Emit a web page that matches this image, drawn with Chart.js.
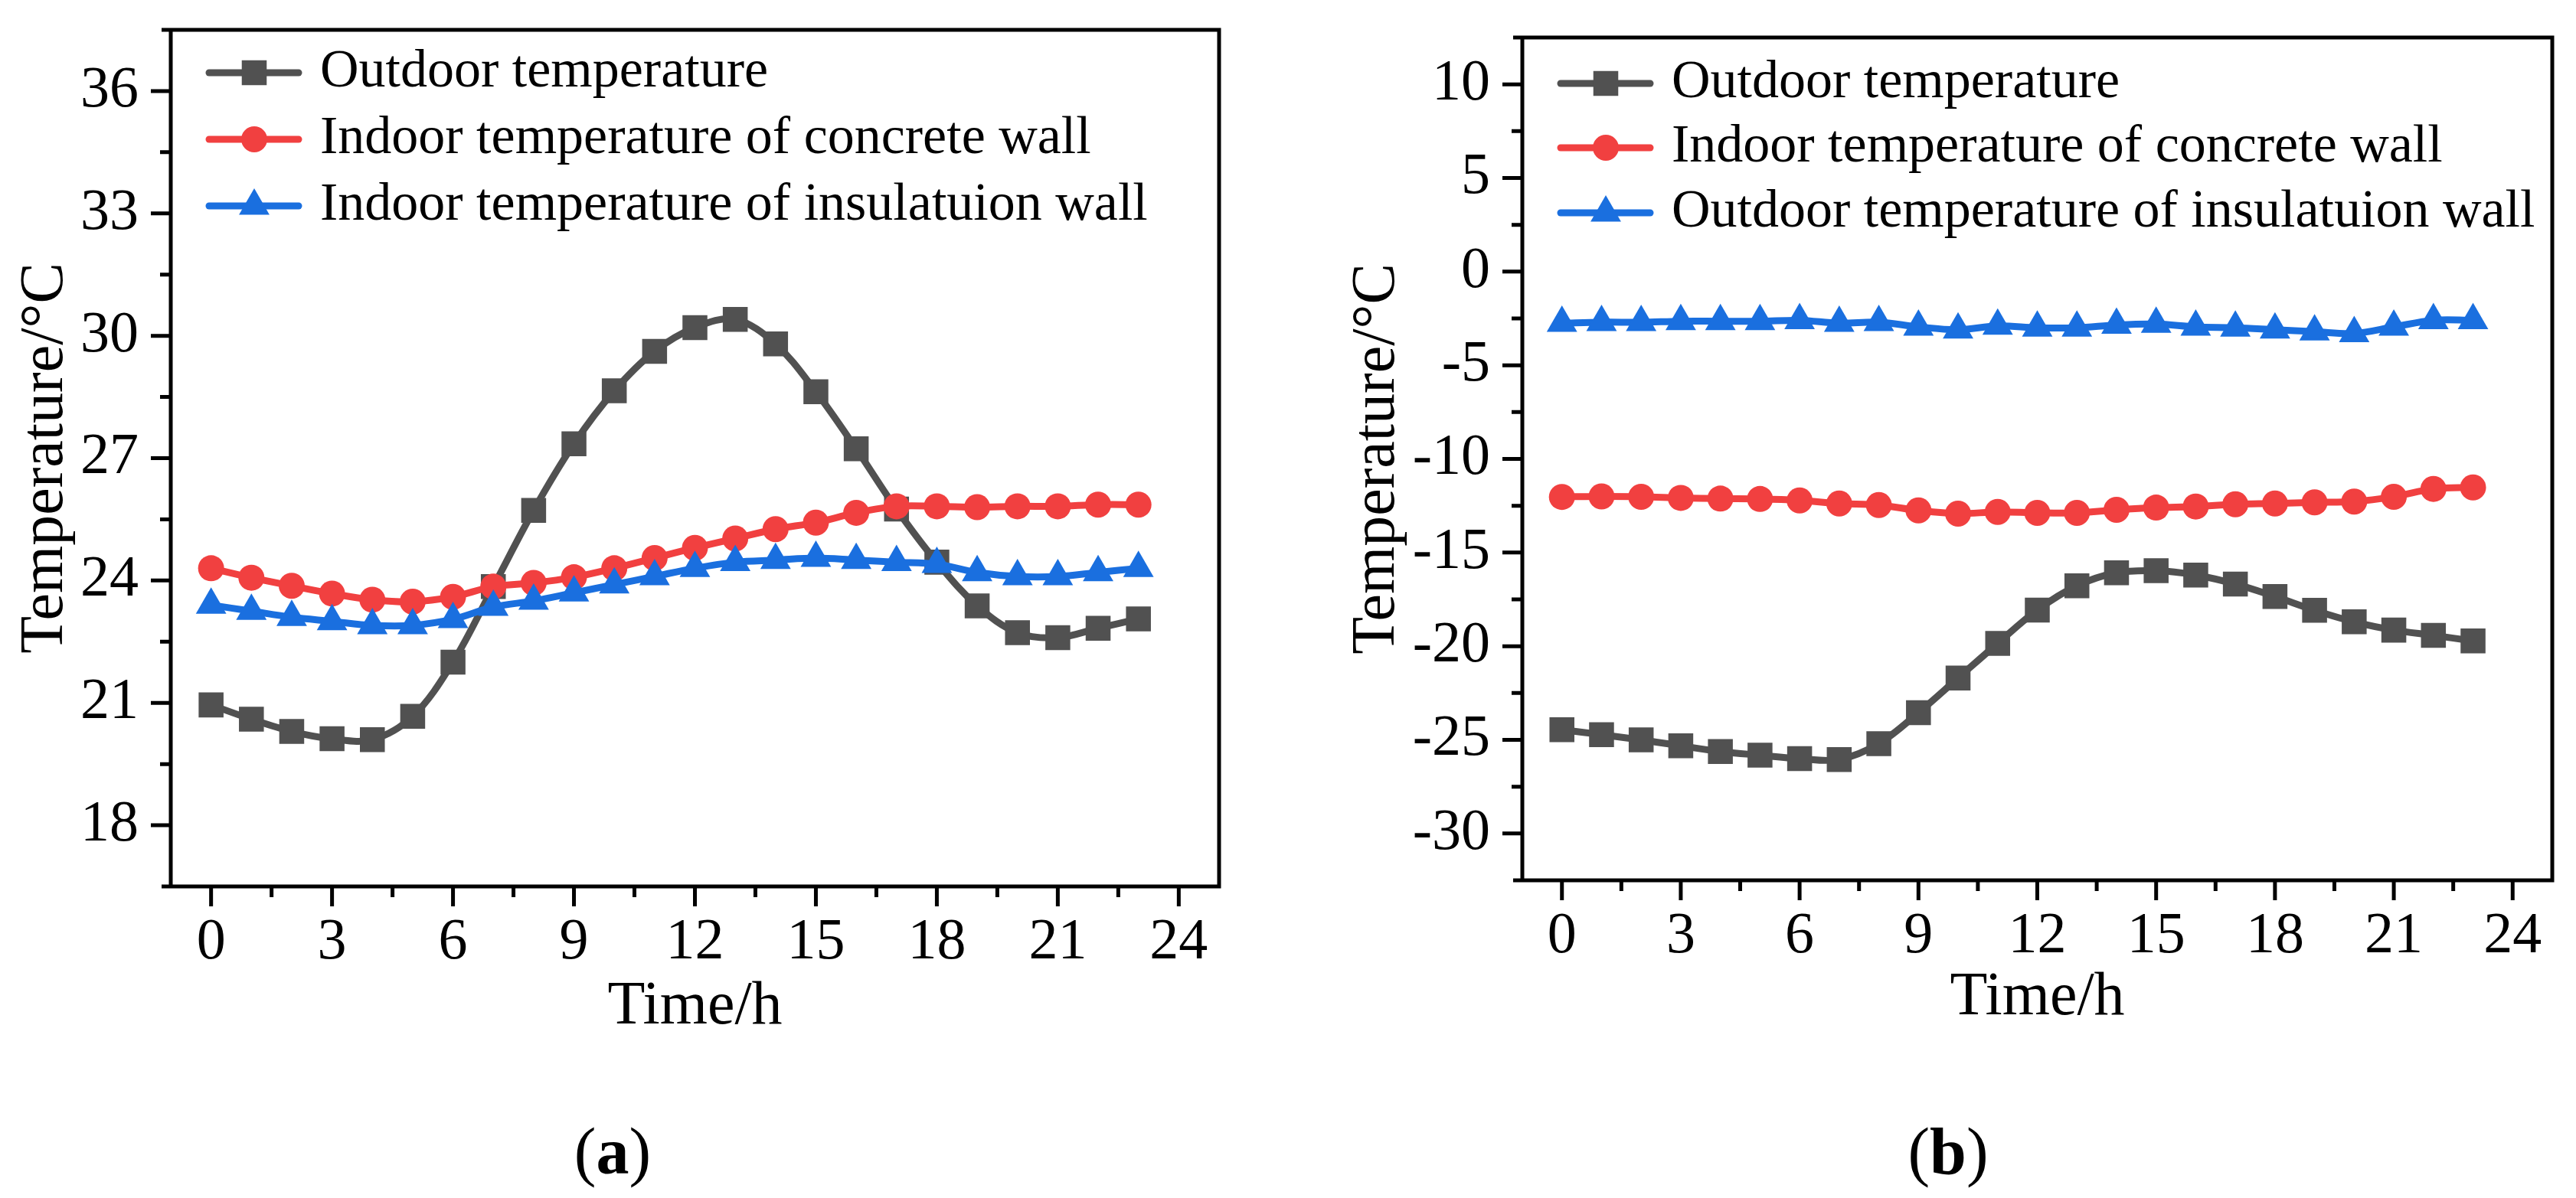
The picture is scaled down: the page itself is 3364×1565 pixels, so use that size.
<!DOCTYPE html>
<html><head><meta charset="utf-8">
<script src="https://cdn.jsdelivr.net/npm/chart.js@4.4.1/dist/chart.umd.min.js"></script>
<style>
html,body{margin:0;padding:0;background:#fff;width:3364px;height:1565px;overflow:hidden;}
canvas{position:absolute;top:0;}
#ca{left:0;}
#cb{left:1682px;}
.lab{position:absolute;font-family:'Liberation Serif','Times New Roman',serif;font-size:86px;line-height:86px;white-space:nowrap;transform:translateX(-50%);color:#000;}
</style></head><body>
<canvas id="ca" width="1682" height="1565" style="width:1682px;height:1565px"></canvas>
<canvas id="cb" width="1682" height="1565" style="width:1682px;height:1565px"></canvas>
<div class="lab" style="left:800px;top:1461px">(<b>a</b>)</div>
<div class="lab" style="left:2544px;top:1461px">(<b>b</b>)</div>
<script>
const hours = [0,1,2,3,4,5,6,7,8,9,10,11,12,13,14,15,16,17,18,19,20,21,22,23];
const xTicks = [0,3,6,9,12,15,18,21,24];
const xMinorTicks = [1.5,4.5,7.5,10.5,13.5,16.5,19.5,22.5];
const yTicksA = [18,21,24,27,30,33,36];
const yMinorTicksA = [19.5,22.5,25.5,28.5,31.5,34.5];
const yTicksB = [-30,-25,-20,-15,-10,-5,0,5,10];
const yMinorTicksB = [-27.5,-22.5,-17.5,-12.5,-7.5,-2.5,2.5,7.5];

const outdoorA    = [20.95,20.6,20.3,20.12,20.1,20.67,22.0,23.85,25.72,27.35,28.65,29.62,30.2,30.4,29.8,28.63,27.23,25.75,24.45,23.38,22.72,22.6,22.83,23.06];
const concreteA   = [24.3,24.07,23.87,23.68,23.53,23.48,23.6,23.85,23.94,24.08,24.3,24.55,24.8,25.03,25.26,25.42,25.66,25.82,25.82,25.8,25.82,25.82,25.86,25.86];
const insulationA = [23.4,23.25,23.1,23.0,22.9,22.9,23.05,23.35,23.5,23.7,23.9,24.1,24.3,24.45,24.5,24.55,24.5,24.45,24.4,24.2,24.1,24.1,24.2,24.3];

const outdoorB    = [-24.46,-24.72,-25.0,-25.32,-25.62,-25.82,-26.0,-26.05,-25.2,-23.55,-21.7,-19.85,-18.07,-16.77,-16.08,-15.97,-16.2,-16.68,-17.35,-18.08,-18.7,-19.14,-19.42,-19.72];
const concreteB   = [-12.03,-12.0,-12.02,-12.08,-12.12,-12.14,-12.22,-12.38,-12.46,-12.75,-12.92,-12.83,-12.88,-12.88,-12.72,-12.6,-12.54,-12.42,-12.38,-12.32,-12.28,-12.02,-11.6,-11.52];
const insulationB = [-2.75,-2.7,-2.7,-2.65,-2.65,-2.65,-2.6,-2.75,-2.7,-2.95,-3.1,-2.9,-3.0,-3.0,-2.85,-2.8,-2.95,-3.0,-3.1,-3.2,-3.3,-2.95,-2.6,-2.6];

const labelsA = ['Outdoor temperature','Indoor temperature of concrete wall','Indoor temperature of insulatuion wall'];
const labelsB = ['Outdoor temperature','Indoor temperature of concrete wall','Outdoor temperature of insulatuion wall'];

const seriesColors = ['#515151','#F14040','#1A6FDF'];
const seriesStyles = ['rect','circle','triangle'];
const seriesRadius = [23,17,23];
const FONT = "'Liberation Serif','Times New Roman',serif";

function drawMarker(ctx, style, r, x, y){
  if (window.Chart && Chart.helpers && Chart.helpers.drawPoint) {
    Chart.helpers.drawPoint(ctx, {pointStyle: style, radius: r, rotation: 0, borderWidth: 0}, x, y);
    return;
  }
  ctx.beginPath();
  if (style === 'rect') { const s = r*Math.SQRT1_2; ctx.rect(x-s,y-s,2*s,2*s); }
  else if (style === 'circle') { ctx.arc(x,y,r,0,Math.PI*2); }
  else { ctx.moveTo(x, y-r); ctx.lineTo(x+r*Math.sqrt(3)/2, y+r/2); ctx.lineTo(x-r*Math.sqrt(3)/2, y+r/2); ctx.closePath(); }
  ctx.fill();
}

const framePlugin = {
  id: 'frameTicks',
  afterDraw(chart, args, o) {
    const {ctx, chartArea: {left, right, top, bottom}, scales: {x, y}} = chart;
    ctx.save();
    ctx.strokeStyle = '#000';
    ctx.lineWidth = 5;
    ctx.lineCap = 'butt';
    ctx.beginPath();
    ctx.moveTo(left - 12, top); ctx.lineTo(right + 2.5, top);
    ctx.moveTo(left - 12, bottom); ctx.lineTo(right + 2.5, bottom);
    ctx.moveTo(left, top - 2.5); ctx.lineTo(left, bottom + 2.5);
    ctx.moveTo(right, top - 2.5); ctx.lineTo(right, bottom + 2.5);
    o.xMajor.forEach(v => { const p = x.getPixelForValue(v); ctx.moveTo(p, bottom); ctx.lineTo(p, bottom + 26); });
    o.xMinor.forEach(v => { const p = x.getPixelForValue(v); ctx.moveTo(p, bottom); ctx.lineTo(p, bottom + 14); });
    o.yMajor.forEach(v => { const p = y.getPixelForValue(v); ctx.moveTo(left, p); ctx.lineTo(left - 26, p); });
    o.yMinor.forEach(v => { const p = y.getPixelForValue(v); ctx.moveTo(left, p); ctx.lineTo(left - 14, p); });
    ctx.stroke();
    ctx.restore();
  }
};

const legendPlugin = {
  id: 'seriesLegend',
  afterDraw(chart, args, o) {
    const {ctx, chartArea} = chart;
    const L = chartArea.left;
    ctx.save();
    chart.data.datasets.forEach((ds, i) => {
      const yy = o.rows[i];
      ctx.strokeStyle = ds.borderColor;
      ctx.lineWidth = 9;
      ctx.lineCap = 'round';
      ctx.beginPath();
      ctx.moveTo(L + o.lineStart, yy);
      ctx.lineTo(L + o.lineEnd, yy);
      ctx.stroke();
      ctx.fillStyle = ds.pointBackgroundColor;
      drawMarker(ctx, ds.pointStyle, ds.pointRadius, L + o.marker, yy);
      ctx.fillStyle = '#000';
      ctx.font = '70px ' + FONT;
      ctx.textBaseline = 'middle';
      ctx.textAlign = 'left';
      ctx.fillText(ds.label, L + o.text, yy);
    });
    ctx.restore();
  }
};

function makeDatasets(labels, arrays) {
  return arrays.map((arr, i) => ({
    label: labels[i],
    data: hours.map((h, k) => ({x: h, y: arr[k]})),
    borderColor: seriesColors[i],
    backgroundColor: seriesColors[i],
    pointBackgroundColor: seriesColors[i],
    pointBorderWidth: 0,
    pointStyle: seriesStyles[i],
    pointRadius: seriesRadius[i],
    pointHoverRadius: seriesRadius[i],
    borderWidth: 9,
    borderCapStyle: 'round',
    borderJoinStyle: 'round',
    tension: 0.35,
    fill: false,
    order: 3 - i
  }));
}

function makeChart(id, cfg) {
  const chart = new Chart(document.getElementById(id), {
    type: 'line',
    data: {datasets: makeDatasets(cfg.labels, cfg.arrays)},
    plugins: [framePlugin, legendPlugin],
    options: {
      responsive: false,
      animation: false,
      events: [],
      layout: {padding: Object.assign({}, cfg.padding)},
      plugins: {
        legend: {display: false},
        tooltip: {enabled: false},
        frameTicks: {xMajor: xTicks, xMinor: xMinorTicks, yMajor: cfg.yTicks, yMinor: cfg.yMinor},
        seriesLegend: cfg.legend
      },
      scales: {
        x: {
          type: 'linear', min: -1, max: 25,
          afterBuildTicks: s => { s.ticks = xTicks.map(v => ({value: v})); },
          afterFit: s => { s.height = 200; s.paddingLeft = 0; s.paddingRight = 0; },
          grid: {display: false, drawTicks: false},
          border: {display: false},
          ticks: {font: {family: FONT, size: 76, lineHeight: 1}, color: '#000', padding: 36, maxRotation: 0, autoSkip: false},
          title: {display: true, text: 'Time/h', color: '#000', font: {family: FONT, size: 80, lineHeight: 1}, padding: {top: 0, bottom: cfg.xTitlePad}}
        },
        y: {
          type: 'linear', min: cfg.yMin, max: cfg.yMax,
          afterBuildTicks: s => { s.ticks = cfg.yTicks.map(v => ({value: v})); },
          afterFit: s => { s.width = cfg.yWidth; s.paddingTop = 0; s.paddingBottom = 0; },
          grid: {display: false, drawTicks: false},
          border: {display: false},
          ticks: {font: {family: FONT, size: 76, lineHeight: 1}, color: '#000', padding: 42, autoSkip: false},
          title: {display: true, text: 'Temperature/°C', color: '#000', font: {family: FONT, size: 80, lineHeight: 1}, padding: {top: cfg.yTitlePad, bottom: 0}}
        }
      }
    }
  });
  // nudge the layout padding so the plot area lands where the reference frame is
  for (let k = 0; k < 3; k++) {
    const a = chart.chartArea, t = cfg.area, p = chart.options.layout.padding;
    const dT = t.top - a.top, dB = a.bottom - t.bottom, dL = t.left - a.left, dR = a.right - t.right;
    if (Math.abs(dT) < 0.5 && Math.abs(dB) < 0.5 && Math.abs(dL) < 0.5 && Math.abs(dR) < 0.5) break;
    chart.options.layout.padding = {top: p.top + dT, bottom: p.bottom + dB, left: p.left + dL, right: p.right + dR};
    chart.update();
  }
  return chart;
}

makeChart('ca', {
  labels: labelsA,
  arrays: [outdoorA, concreteA, insulationA],
  padding: {left: 0, top: 39, right: 90, bottom: 207},
  area: {left: 223, top: 39, right: 1592, bottom: 1158},
  yMin: 16.5, yMax: 37.5, yTicks: yTicksA, yMinor: yMinorTicksA,
  yWidth: 223, yTitlePad: 20, xTitlePad: 2,
  legend: {rows: [95, 182, 269], lineStart: 50, marker: 109, lineEnd: 167, text: 195}
});

makeChart('cb', {
  labels: labelsB,
  arrays: [outdoorB, concreteB, insulationB],
  padding: {left: 0, top: 49, right: 31, bottom: 215},
  area: {left: 306, top: 49, right: 1651, bottom: 1150},
  yMin: -32.5, yMax: 12.5, yTicks: yTicksB, yMinor: yMinorTicksB,
  yWidth: 306, yTitlePad: 77, xTitlePad: 6,
  legend: {rows: [109, 193, 278], lineStart: 50, marker: 109, lineEnd: 167, text: 195}
});
</script>
</body></html>
